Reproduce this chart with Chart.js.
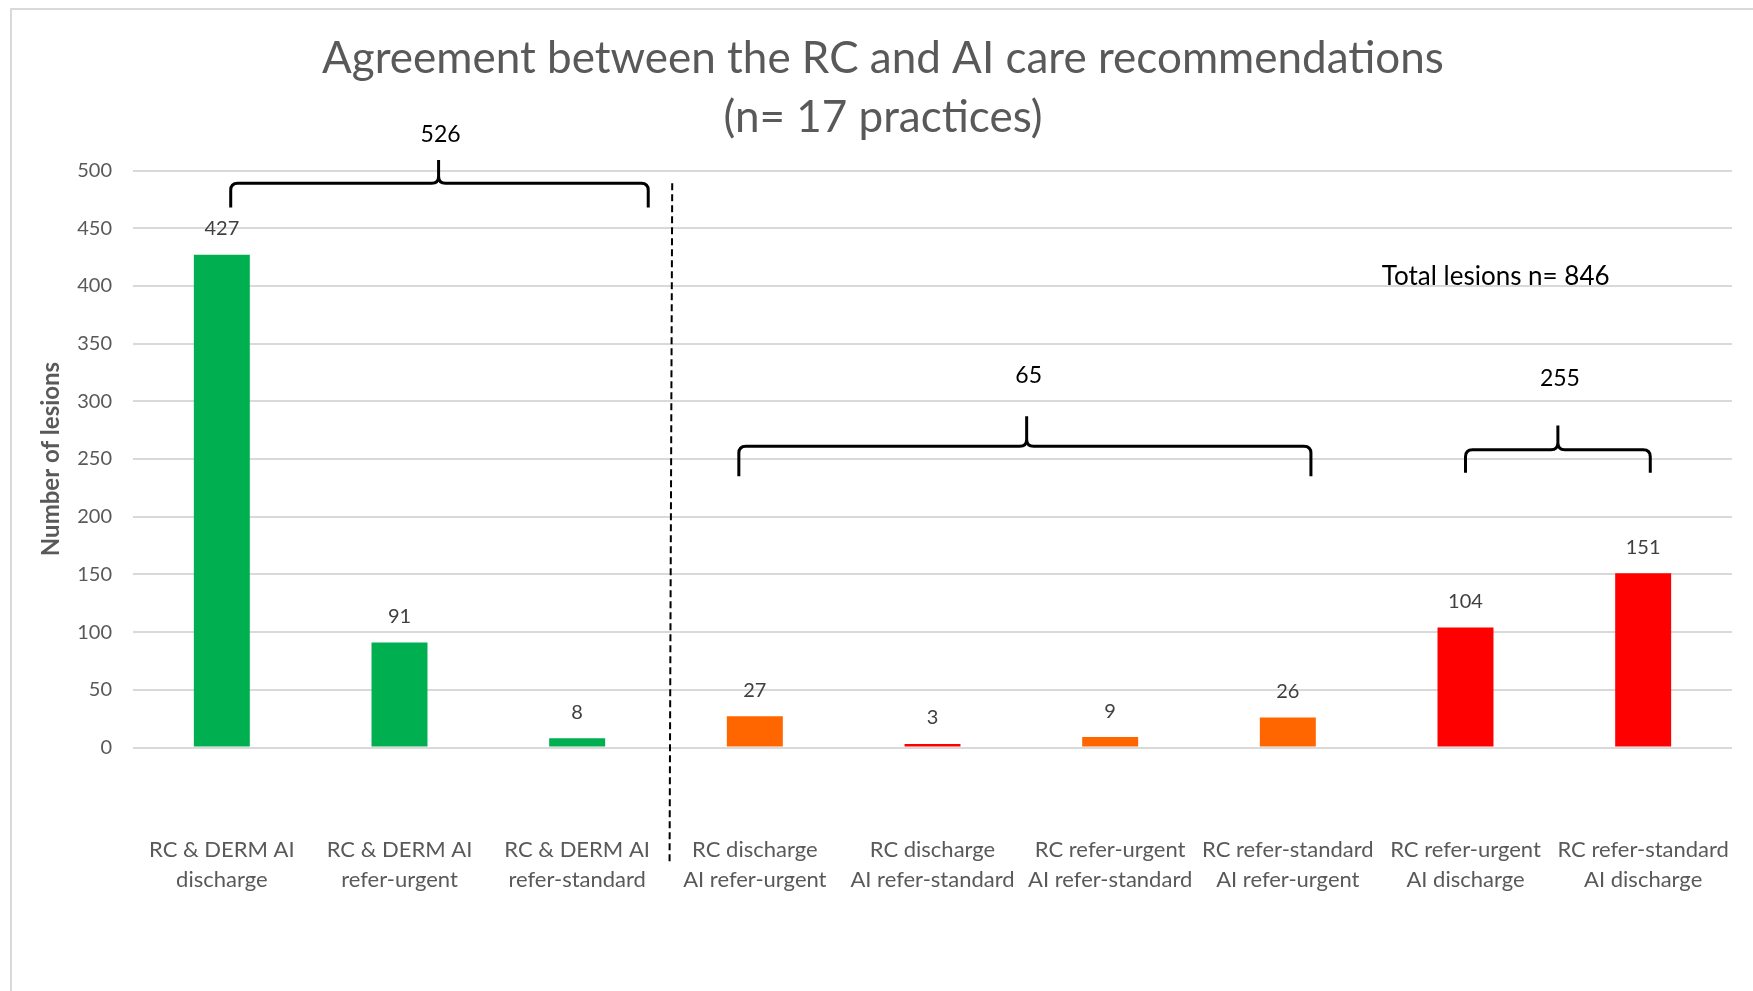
<!DOCTYPE html>
<html>
<head>
<meta charset="utf-8">
<script src="https://cdn.jsdelivr.net/npm/chart.js@4/dist/chart.umd.min.js"></script>
<style>
  body { margin: 0; background: #fff; }
  canvas { display: block; }
</style>
</head>
<body>
<canvas id="agreementChart" width="1753" height="991"></canvas>
<script>
// categories and counts
const categories = [
    ['RC & DERM AI', 'discharge'],
    ['RC & DERM AI', 'refer-urgent'],
    ['RC & DERM AI', 'refer-standard'],
    ['RC discharge', 'AI refer-urgent'],
    ['RC discharge', 'AI refer-standard'],
    ['RC refer-urgent', 'AI refer-standard'],
    ['RC refer-standard', 'AI refer-urgent'],
    ['RC refer-urgent', 'AI discharge'],
    ['RC refer-standard', 'AI discharge']
];
const lesionCounts = [427, 91, 8, 27, 3, 9, 26, 104, 151];
const barColors = ['#00b050', '#00b050', '#00b050', '#ff6600', '#ff0000', '#ff6600', '#ff6600', '#ff0000', '#ff0000'];
const yTicks = [0, 50, 100, 150, 200, 250, 300, 350, 400, 450, 500];

// group totals shown above the braces
const groupTotals = [526, 65, 255];
const totalLesions = 846;

// brace placement, in category index / axis units
const braces = [
    { from: 0.05, to: 2.40, mid: 1.22, line: 489, ends: 468, peak: 509, label: 531 },
    { from: 2.91, to: 6.13, mid: 4.53, line: 261, ends: 235, peak: 287, label: 322 },
    { from: 7.00, to: 8.04, mid: 7.52, line: 258, ends: 238, peak: 279, label: 320 }
];

const FONT = 'Lato, "Open Sans", sans-serif';

const annotations = {
    id: 'annotations',
    beforeDraw(chart) {
        const c = chart.ctx;
        c.save();
        c.fillStyle = '#fff';
        c.fillRect(0, 0, chart.width, chart.height);
        c.strokeStyle = '#d9d9d9';
        c.lineWidth = 2;
        c.strokeRect(11, 9, chart.width + 20, chart.height + 20);
        c.restore();
    },
    afterDatasetsDraw(chart) {
        const c = chart.ctx;
        const x = chart.scales.x, y = chart.scales.y;
        c.save();

        // value labels over bars
        c.font = '20px ' + FONT;
        c.fillStyle = '#404040';
        c.textAlign = 'center';
        c.textBaseline = 'middle';
        chart.getDatasetMeta(0).data.forEach((bar, i) => {
            c.fillText(lesionCounts[i], bar.x, bar.y - 26);
        });

        // dashed separator
        c.strokeStyle = '#000';
        c.lineWidth = 2;
        c.setLineDash([7, 4]);
        c.beginPath();
        c.moveTo(x.getPixelForValue(2.535), y.getPixelForValue(489));
        c.lineTo(x.getPixelForValue(2.52), y.getPixelForValue(-99));
        c.stroke();
        c.setLineDash([]);

        // braces
        c.lineWidth = 3;
        c.lineJoin = 'round';
        braces.forEach((b, i) => {
            const x1 = x.getPixelForValue(b.from), x2 = x.getPixelForValue(b.to), xm = x.getPixelForValue(b.mid);
            const yl = y.getPixelForValue(b.line), ye = y.getPixelForValue(b.ends), yp = y.getPixelForValue(b.peak);
            const r = 7;
            c.beginPath();
            c.moveTo(x1, ye);
            c.lineTo(x1, yl + r);
            c.quadraticCurveTo(x1, yl, x1 + r, yl);
            c.lineTo(xm - r, yl);
            c.quadraticCurveTo(xm, yl, xm, yl - r);
            c.lineTo(xm, yp);
            c.moveTo(xm, yl - r);
            c.quadraticCurveTo(xm, yl, xm + r, yl);
            c.lineTo(x2 - r, yl);
            c.quadraticCurveTo(x2, yl, x2, yl + r);
            c.lineTo(x2, ye);
            c.stroke();

            c.font = '23px ' + FONT;
            c.fillStyle = '#000';
            c.fillText(groupTotals[i], xm + 2, y.getPixelForValue(b.label));
        });

        c.font = '26px ' + FONT;
        c.fillText('Total lesions n= ' + totalLesions, x.getPixelForValue(7.17), y.getPixelForValue(408));
        c.restore();
    }
};

const ctx = document.getElementById('agreementChart').getContext('2d');

new Chart(ctx, {
    type: 'bar',
    data: {
        labels: categories,
        datasets: [{
            data: lesionCounts,
            backgroundColor: barColors,
            borderWidth: 0,
            categoryPercentage: 1,
            barPercentage: 0.315
        }]
    },
    options: {
        responsive: false,
        animation: false,
        layout: { padding: { left: 34, right: 21, top: 0, bottom: 0 } },
        plugins: {
            legend: { display: false },
            tooltip: { enabled: false },
            title: {
                display: true,
                text: ['Agreement between the RC and AI care recommendations', '(n= 17 practices)'],
                color: '#595959',
                font: { family: FONT, size: 44, weight: 'normal', lineHeight: '59px' },
                padding: { top: 29.5, bottom: 23 }
            }
        },
        scales: {
            x: {
                grid: { display: false, drawTicks: false },
                border: { display: false },
                ticks: {
                    color: '#595959',
                    font: { family: FONT, size: 22, lineHeight: '30px' },
                    padding: 87.5,
                    maxRotation: 0,
                    autoSkip: false
                },
                afterFit(scale) {
                    scale.height = 243.5;
                    scale.paddingLeft = 0;
                    scale.paddingRight = 0;
                }
            },
            y: {
                min: 0,
                max: 500,
                afterBuildTicks(scale) { scale.ticks = yTicks.map(v => ({ value: v })); },
                grid: { color: '#d9d9d9', lineWidth: 2, drawTicks: false },
                border: { display: false },
                ticks: {
                    color: '#595959',
                    font: { family: FONT, size: 20 },
                    padding: 21
                },
                title: {
                    display: true,
                    text: 'Number of lesions',
                    color: '#595959',
                    font: { family: FONT, size: 24, weight: 'bold', lineHeight: '29px' },
                    padding: { top: 2.5, bottom: 0 }
                },
                afterFit(scale) { scale.width = 99; }
            }
        }
    },
    plugins: [annotations]
});
</script>
</body>
</html>
